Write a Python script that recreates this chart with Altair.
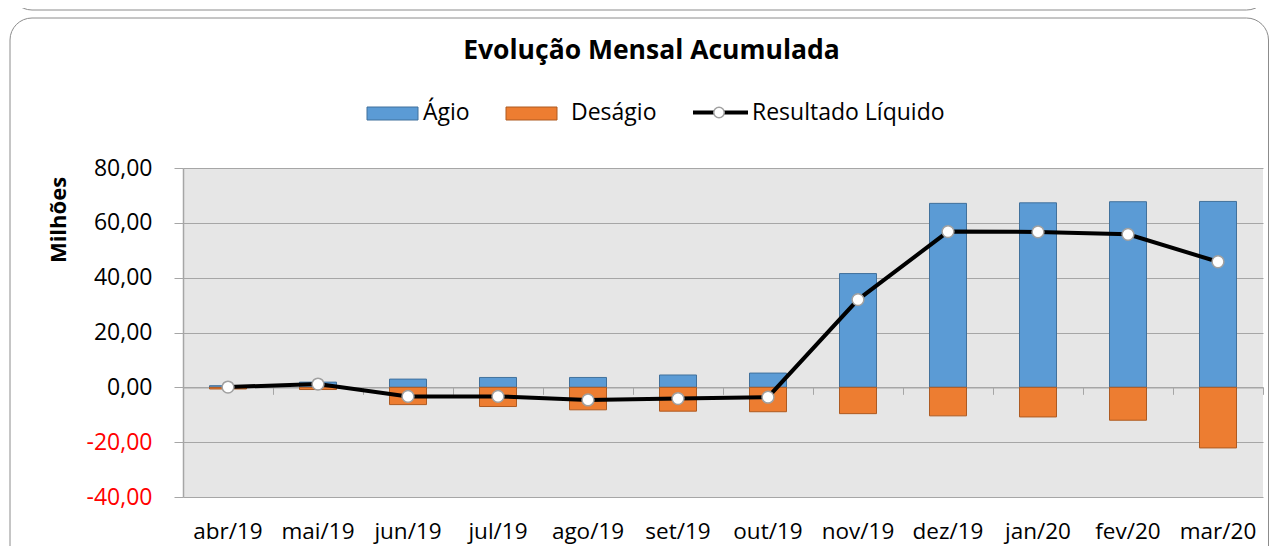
import altair as alt
import pandas as pd

FONT = "Open Sans"

meses = ["abr/19", "mai/19", "jun/19", "jul/19", "ago/19", "set/19",
         "out/19", "nov/19", "dez/19", "jan/20", "fev/20", "mar/20"]
agio = [0.6, 1.9, 3.0, 3.6, 3.6, 4.5, 5.2, 41.5, 67.1, 67.3, 67.7, 67.8]
desagio = [-0.6, -0.8, -6.3, -7.0, -8.2, -8.7, -8.9, -9.6, -10.4, -10.8, -12.0, -22.1]
resultado = [0.1, 1.2, -3.3, -3.3, -4.6, -4.1, -3.6, 32.0, 56.8, 56.7, 55.8, 45.8]

series = ["Ágio", "Deságio", "Resultado Líquido"]
y_ticks = [-40, -20, 0, 20, 40, 60, 80]

rows = []
for i, m in enumerate(meses):
    rows.append({"mes": m, "serie": "Ágio", "valor": agio[i]})
    rows.append({"mes": m, "serie": "Deságio", "valor": desagio[i]})
    rows.append({"mes": m, "serie": "Resultado Líquido", "valor": resultado[i]})
df = pd.DataFrame(rows)

GRID = "#a6a6a6"
W, H = 1080, 329

y_enc = alt.Y(
    "valor:Q",
    scale=alt.Scale(domain=[-40, 80], nice=False),
    axis=alt.Axis(
        values=y_ticks, title=None,
        labelExpr="(datum.value < 0 ? '-' : '') + replace(format(abs(datum.value), '.2f'), '.', ',')",
        labelColor=alt.condition("datum.value < 0", alt.value("#ff0000"), alt.value("black")),
        labelFont=FONT, labelFontSize=23, labelPadding=22,
        gridColor=GRID, domainColor=GRID, tickColor=GRID, tickSize=9,
        domainWidth=1.5,
    ),
)

x_scale = alt.Scale(type="band", paddingInner=0, paddingOuter=0)

x_labels = alt.X(
    "mes:N", sort=meses, scale=x_scale,
    axis=alt.Axis(title=None, orient="bottom", labelFont=FONT, labelFontSize=22.5,
                  labelColor="black", labelPadding=23, labelAngle=0,
                  domain=False, ticks=False, grid=False),
)

bars = alt.Chart(df).transform_filter(
    "datum.serie != 'Resultado Líquido'"
).mark_bar(width=37, strokeWidth=1).encode(
    x=x_labels,
    y=y_enc,
    color=alt.Color("serie:N", scale=alt.Scale(domain=["Ágio", "Deságio"],
                                               range=["#5b9bd5", "#ed7d31"]), legend=None),
    stroke=alt.Stroke("serie:N", scale=alt.Scale(domain=["Ágio", "Deságio"],
                                                 range=["#41719c", "#ae5a21"]), legend=None),
)

zero_axis = alt.Chart(df).transform_filter(
    "datum.serie == 'Resultado Líquido'"
).mark_point(opacity=0).encode(
    x=alt.X("mes:N", sort=meses, scale=x_scale,
            axis=alt.Axis(title=None, orient="bottom", offset=-H * 40 / 120,
                          labels=False, domain=True, domainColor=GRID, domainWidth=1.2,
                          ticks=True, tickBand="extent", tickSize=7, tickColor=GRID,
                          grid=False)),
    y=y_enc,
)

res = alt.Chart(df).transform_filter("datum.serie == 'Resultado Líquido'")

line = res.mark_line(color="black", strokeWidth=4).encode(
    x=alt.X("mes:N", sort=meses, scale=x_scale, bandPosition=0.5, axis=None),
    y=y_enc,
)
points = res.mark_point(filled=True, fill="white", stroke="#a0a0a0", strokeWidth=1.5,
                        size=140, opacity=1).encode(
    x=alt.X("mes:N", sort=meses, scale=x_scale, bandPosition=0.5, axis=None),
    y=y_enc,
)

one = pd.DataFrame({"k": [0]})
dec = alt.Chart(one)

# frames
frame = dec.mark_rect(fill="white", fillOpacity=0, stroke="#8c8c8c", strokeWidth=1,
                      cornerRadius=22).encode(
    x=alt.value(-173), x2=alt.value(1085.5), y=alt.value(-150), y2=alt.value(430))
frame_top = dec.mark_rect(fill="white", fillOpacity=0, stroke="#8c8c8c", strokeWidth=1,
                          cornerRadius=22).encode(
    x=alt.value(-173), x2=alt.value(1085.5), y=alt.value(-220), y2=alt.value(-158))

title = dec.mark_text(text="Evolução Mensal Acumulada", font=FONT, fontSize=26.5,
                      fontWeight="bold", color="black", align="center",
                      baseline="middle").encode(x=alt.value(468.5), y=alt.value(-117))

ytitle = dec.mark_text(text="Milhões", font=FONT, fontSize=22, fontWeight="bold",
                       color="black", angle=270, align="center",
                       baseline="middle").encode(x=alt.value(-124), y=alt.value(52))

LY = -55
leg_agio = dec.mark_rect(fill="#5b9bd5", stroke="#41719c", strokeWidth=1).encode(
    x=alt.value(184), x2=alt.value(235), y=alt.value(-61), y2=alt.value(-48))
leg_agio_t = dec.mark_text(text="Ágio", font=FONT, fontSize=23, align="left",
                           baseline="middle", color="black").encode(
    x=alt.value(240), y=alt.value(LY))
leg_des = dec.mark_rect(fill="#ed7d31", stroke="#ae5a21", strokeWidth=1).encode(
    x=alt.value(323), x2=alt.value(374), y=alt.value(-61), y2=alt.value(-48))
leg_des_t = dec.mark_text(text="Deságio", font=FONT, fontSize=23, align="left",
                          baseline="middle", color="black").encode(
    x=alt.value(388), y=alt.value(LY))
leg_line = dec.mark_rule(color="black", strokeWidth=4).encode(
    x=alt.value(510), x2=alt.value(565), y=alt.value(-55.5))
leg_pt = dec.mark_point(filled=True, fill="white", stroke="#a0a0a0", strokeWidth=1.5,
                        size=110, opacity=1).encode(x=alt.value(536), y=alt.value(-55.5))
leg_res_t = dec.mark_text(text="Resultado Líquido", font=FONT, fontSize=23, align="left",
                          baseline="middle", color="black").encode(
    x=alt.value(569), y=alt.value(LY))

chart = alt.layer(
    frame, frame_top, title, ytitle,
    leg_agio, leg_agio_t, leg_des, leg_des_t, leg_line, leg_pt, leg_res_t,
    bars, zero_axis, line, points,
).resolve_axis(x="independent").properties(
    width=W, height=H,
    padding={"left": 175, "top": 160, "right": 7, "bottom": 49},
    autosize=alt.AutoSizeParams(type="none"),
    background="white",
).configure_view(fill="#e6e6e6", stroke=None)

chart.save("out.html", embed_options={"renderer": "svg", "actions": False})
